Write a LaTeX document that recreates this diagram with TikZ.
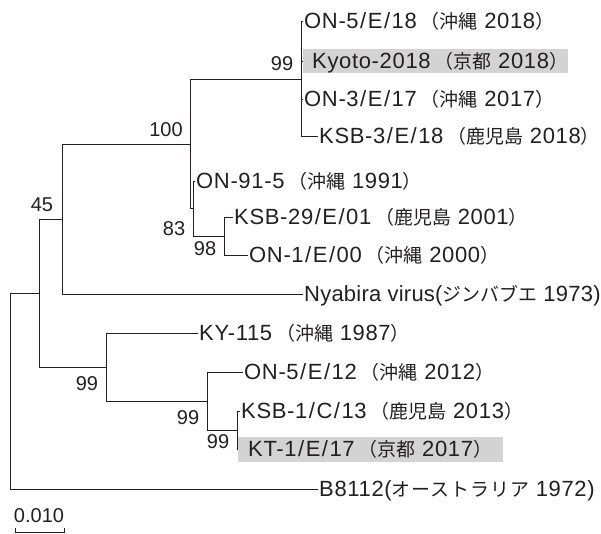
\documentclass[tikz,border=0pt]{standalone}
\usepackage{fontspec}
\setmainfont{Liberation Sans}[LetterSpace=3]
\newfontfamily\jp{Noto Sans CJK JP}[Scale=0.86]
\newfontfamily\jpw{Noto Sans CJK JP}[Scale=0.86,LetterSpace=5]
\newfontfamily\numfont{Liberation Sans}
\definecolor{boxgray}{RGB}{211,211,211}
\definecolor{ink}{RGB}{35,31,32}
\newcommand{\J}[1]{{\jp #1}}
\newcommand{\lp}{\kern4pt{\jp （}}
\newcommand{\sls}{\kern1.5pt/\kern1.5pt}
\begin{document}
\begin{tikzpicture}[x=1pt,y=-1pt,
  font=\fontsize{22}{26}\selectfont,
  branch/.style={draw=ink, line width=0.9pt},
  tiplabel/.style={anchor=base west, inner sep=0pt, yshift=-7.8pt, text=ink},
  boot/.style={inner sep=0pt, text=ink, font=\numfont\fontsize{20}{24}\selectfont},
  hlbox/.style={fill=boxgray, inner sep=0pt, anchor=west, minimum height=24pt}]
\useasboundingbox (0,0) rectangle (601,534);

% internal nodes
\coordinate (root) at (10,391);
\coordinate (n45) at (39,293);
\coordinate (n62) at (62,219);
\coordinate (n100) at (190,144);
\coordinate (n99a) at (301,79);
\coordinate (n83) at (193,208);
\coordinate (n98) at (224,236);
\coordinate (n99b) at (106,367);
\coordinate (n99c) at (207,401);
\coordinate (n99d) at (237,430);

% tips
\coordinate (t1) at (303,21);
\node[hlbox, minimum width=265pt] (kbox) at (303,61) {};
\coordinate (t3) at (303,99);
\coordinate (t4) at (318,136);
\coordinate (t5) at (195,181);
\coordinate (t6) at (233,217);
\coordinate (t7) at (248,255);
\coordinate (t8) at (303,294);
\coordinate (t9) at (198,333);
\coordinate (t10) at (243,372);
\coordinate (t11) at (240,411);
\node[hlbox, minimum width=265pt, minimum height=25pt] (ktbox) at (238,449) {};
\coordinate (t13) at (318,489);

% branches
\draw[branch] (root) |- (n45);
\draw[branch] (root) |- (t13);
\draw[branch] (n45) |- (n62);
\draw[branch] (n45) |- (n99b);
\draw[branch] (n62) |- (n100);
\draw[branch] (n62) |- (t8);
\draw[branch] (n100) |- (n99a);
\draw[branch] (n100) |- (n83);
\draw[branch] (n99a) |- (t1);
\draw[branch] (n99a) |- (kbox.west);
\draw[branch] (n99a) |- (t3);
\draw[branch] (n99a) |- (t4);
\draw[branch] (n83) |- (t5);
\draw[branch] (n83) |- (n98);
\draw[branch] (n98) |- (t6);
\draw[branch] (n98) |- (t7);
\draw[branch] (n99b) |- (t9);
\draw[branch] (n99b) |- (n99c);
\draw[branch] (n99c) |- (t10);
\draw[branch] (n99c) |- (n99d);
\draw[branch] (n99d) |- (t11);
\draw[branch] (n99d) |- (ktbox.west);

% tip labels
\node[tiplabel] (l1) at ([xshift=1pt]t1) {ON-5\sls E\sls 18\lp\J{沖縄} 2018\J{）}};
\node[tiplabel] (l2) at (312,61) {Kyoto-2018\lp\J{京都} 2018\J{）}};
\node[tiplabel] (l3) at ([xshift=1pt]t3) {ON-3\sls E\sls 17\lp\J{沖縄} 2017\J{）}};
\node[tiplabel] (l4) at ([xshift=1pt]t4) {KSB-3\sls E\sls 18\lp\J{鹿児島} 2018\J{）}\kern-9pt};
\node[tiplabel] (l5) at ([xshift=1pt]t5) {ON-91-5\lp\J{沖縄} 1991\J{）}};
\node[tiplabel] (l6) at ([xshift=1pt]t6) {KSB-29\sls E\sls 01\lp\J{鹿児島} 2001\J{）}};
\node[tiplabel] (l7) at ([xshift=1pt]t7) {ON-1\sls E\sls 00\lp\J{沖縄} 2000\J{）}};
\node[tiplabel] (l8) at ([xshift=1pt]t8) {\addfontfeature{LetterSpace=1}Nyabira virus(\J{ジンバブエ} 1973)};
\node[tiplabel] (l9) at ([xshift=1pt]t9) {KY-115\lp\J{沖縄} 1987\J{）}};
\node[tiplabel] (l10) at ([xshift=1pt]t10) {ON-5\sls E\sls 12\lp\J{沖縄} 2012\J{）}};
\node[tiplabel] (l11) at ([xshift=1pt]t11) {KSB-1\sls C\sls 13\lp\J{鹿児島} 2013\J{）}};
\node[tiplabel] (l12) at (248,449) {KT-1\sls E\sls 17\lp\J{京都} 2017\J{）}};
\node[tiplabel] (l13) at ([xshift=1pt]t13) {B8112({\jpw オーストラリア} 1972)};

% bootstrap values
\node[boot] (b1) at (282,64) {99};
\node[boot] (b2) at (166,130) {100};
\node[boot] (b3) at (42,205) {45};
\node[boot] (b4) at (174,229) {83};
\node[boot] (b5) at (205,249) {98};
\node[boot] (b6) at (87,384) {99};
\node[boot] (b7) at (188,418) {99};
\node[boot] (b8) at (218,442) {99};

% scale bar
\coordinate (sb1) at (15,532);
\coordinate (sb2) at (64,532);
\draw[branch, line width=0.7pt] ([yshift=4pt]sb1) -- (sb1) -- (sb2) -- ([yshift=4pt]sb2);
\node[boot] (sbl) at (39,516) {0.010};
\end{tikzpicture}
\end{document}
